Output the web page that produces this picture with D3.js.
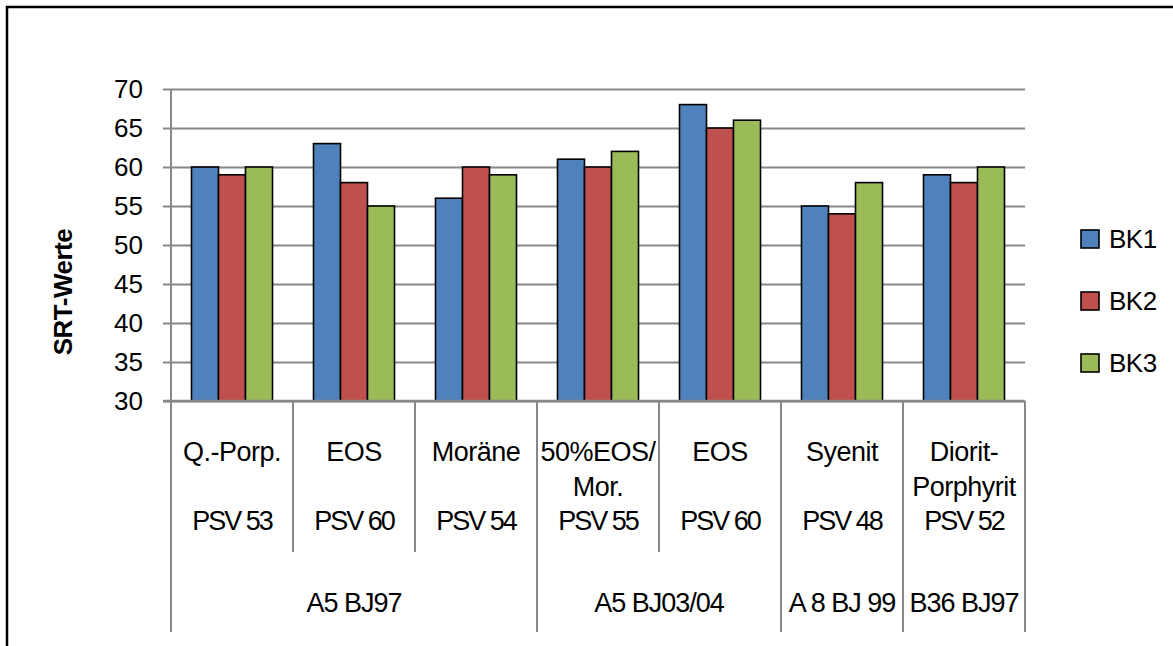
<!DOCTYPE html>
<html><head><meta charset="utf-8">
<script src="https://cdn.jsdelivr.net/npm/d3@7"></script>
<style>
html,body{margin:0;padding:0;background:#fff;}
svg{display:block;font-family:"Liberation Sans",Arial,sans-serif;}
</style></head>
<body>
<svg id="c" width="1173" height="646"></svg>
<script>
const materials = [["Q.-Porp."],["EOS"],["Moräne"],["50%EOS/","Mor."],["EOS"],["Syenit"],["Diorit-","Porphyrit"]];
const psv = ["PSV 53","PSV 60","PSV 54","PSV 55","PSV 60","PSV 48","PSV 52"];
const groups = [{name:"A5 BJ97",span:3},{name:"A5 BJ03/04",span:2},{name:"A 8 BJ 99",span:1},{name:"B36 BJ97",span:1}];
const seriesNames = ["BK1","BK2","BK3"];
const BK1 = [60,63,56,61,68,55,59];
const BK2 = [59,58,60,60,65,54,58];
const BK3 = [60,55,59,62,66,58,60];
const yTicks = [30,35,40,45,50,55,60,65,70];
const colors = ["#4F81BD","#C0504D","#9BBB59"];
const values = [BK1,BK2,BK3];

const svg = d3.select("#c");
const gridColor = "#888888";
const L = 171, R = 1025, T = 89, B = 401;

// outer border
svg.append("rect").attr("x",7).attr("y",7).attr("width",1220).attr("height",720)
  .attr("fill","none").attr("stroke","#000").attr("stroke-width",2.5);

const idx = d3.range(materials.length);
const x = d3.scaleBand().domain(idx).range([L,R]).paddingInner(0).paddingOuter(0);
const bw = x.bandwidth();
const xs = d3.scaleBand().domain(d3.range(3)).range([bw*0.168, bw*0.832]);
const y = d3.scaleLinear().domain([30,70]).range([B,T]);

// gridlines + y ticks
const yAxis = d3.axisLeft(y).tickValues(yTicks).tickSize(-(R-L)).tickPadding(0).tickFormat("");
const ga = svg.append("g").attr("transform",`translate(${L},0)`).call(yAxis);
ga.select(".domain").remove();
ga.selectAll(".tick line").attr("stroke",gridColor).attr("stroke-width",2).attr("x1",-8);
svg.append("g").selectAll("text").data(yTicks).join("text")
  .attr("x",143).attr("y",d=>y(d)).attr("dy","0.35em").attr("text-anchor","end")
  .attr("font-size",26).attr("fill","#000").text(d=>d);

// y axis line
svg.append("line").attr("x1",L).attr("x2",L).attr("y1",T).attr("y2",632)
  .attr("stroke",gridColor).attr("stroke-width",2);

// bars
const gBars = svg.append("g");
values.forEach((vals,s)=>{
  gBars.selectAll(null).data(idx).join("rect")
    .attr("x",i=>x(i)+xs(s)).attr("width",xs.bandwidth())
    .attr("y",i=>y(vals[i])).attr("height",i=>y(30)-y(vals[i]))
    .attr("fill",colors[s]).attr("stroke","#000").attr("stroke-width",1.6);
});

// x axis line
svg.append("line").attr("x1",L-8).attr("x2",R).attr("y1",B).attr("y2",B)
  .attr("stroke",gridColor).attr("stroke-width",2.5);

// category separators
let groupBounds = [0];
let acc = 0; groups.forEach(g=>{acc+=g.span; groupBounds.push(acc);});
const boundaries = d3.range(materials.length+1);
svg.append("g").selectAll("line").data(boundaries).join("line")
  .attr("x1",i=>i<materials.length? x(i): R).attr("x2",i=>i<materials.length? x(i): R)
  .attr("y1",B).attr("y2",i=>groupBounds.includes(i)?632:552)
  .attr("stroke",gridColor).attr("stroke-width",2);

// category labels
const gl = svg.append("g").attr("font-size",27).attr("text-anchor","middle").attr("fill","#000");
idx.forEach(i=>{
  const cx = x(i)+bw/2;
  materials[i].forEach((line,k)=>{
    gl.append("text").attr("x",cx).attr("y",452+k*35).attr("dy","0.35em").attr("letter-spacing","-0.5").text(line);
  });
  gl.append("text").attr("x",cx).attr("y",521).attr("dy","0.35em").attr("letter-spacing","-2").text(psv[i]);
});
groups.forEach((g,j)=>{
  const x0 = x(groupBounds[j]);
  const x1 = groupBounds[j+1]<materials.length? x(groupBounds[j+1]) : R;
  gl.append("text").attr("x",(x0+x1)/2).attr("y",603).attr("dy","0.35em").attr("letter-spacing","-1").text(g.name);
});

// y title
svg.append("text").attr("transform","translate(63,292) rotate(-90)")
  .attr("text-anchor","middle").attr("dy","0.35em").attr("font-size",26).attr("font-weight","bold")
  .attr("letter-spacing","-0.5").text("SRT-Werte");

// legend
const lg = svg.append("g");
seriesNames.forEach((n,s)=>{
  const cy = 239 + s*62;
  lg.append("rect").attr("x",1081).attr("y",cy-9).attr("width",18).attr("height",18)
    .attr("fill",colors[s]).attr("stroke","#000").attr("stroke-width",1.6);
  lg.append("text").attr("x",1109).attr("y",cy).attr("dy","0.35em").attr("font-size",26).attr("letter-spacing","-0.5").text(n);
});
</script>
</body></html>
